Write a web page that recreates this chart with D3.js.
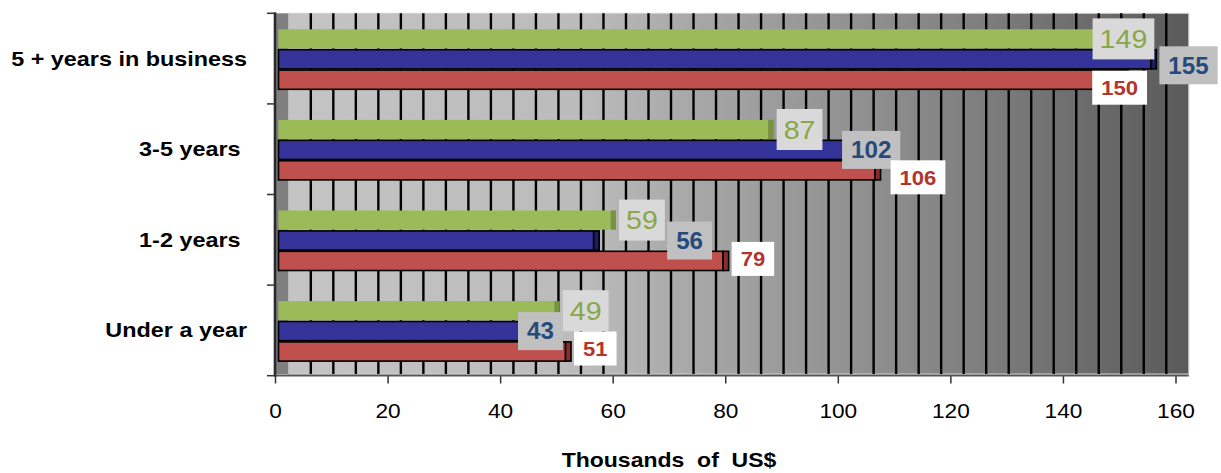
<!DOCTYPE html>
<html>
<head>
<meta charset="utf-8">
<script src="https://cdn.jsdelivr.net/npm/d3@7"></script>
<style>
  html, body { margin: 0; padding: 0; background: #fff; }
  svg { display: block; font-family: "Liberation Sans", Arial, sans-serif; }
  text { white-space: pre; }
</style>
</head>
<body>
<svg id="chart" width="1221" height="473"></svg>
<script>
// ---- data ----
const categories = ["5 + years in business", "3-5 years ", "1-2 years ", "Under a year"];
const greenValues = [149, 87, 59, 49];
const blueValues  = [155, 102, 56, 43];
const redValues   = [150, 106, 79, 51];
const xTicks = [0, 20, 40, 60, 80, 100, 120, 140, 160];
const axisTitle = "Thousands  of  US$";

// hand-placed nudges for value labels that would otherwise collide
const labelShiftX = [[-33, 0, 0, 0], [0, -19, 65, -11], [-39, 7, 0, 0]];
const labelShiftY = [[0, 0, 0, 0], [6, 0, 0, 0], [8, 7, -2, -3]];

// ---- layout ----
const svg = d3.select("#chart");
const SX = 1.2;            // horizontal stretch of axis text
const depth = 13.3;        // back wall offset of the pseudo-3D plot
const wallTop = 13.3, wallBottom = 374, axisY = 375.5;

const x = d3.scaleLinear().domain([0, 160]).range([275, 1175.5]);
const y = d3.scaleBand().domain(categories).range([13.3, 375.7]);
const inner = d3.scaleBand().domain(d3.range(3)).range([16, 76]).paddingInner(0.06);

const series = [
  { values: greenValues, fill: "#9bbb59", cap: "#77933c", stroke: "none",
    bg: "#d9d9d9", color: "#89a746", size: 26, weight: "normal", padX: 7, h: 41, sx: 1.1 },
  { values: blueValues, fill: "#333399", cap: "#1c1c60", stroke: "#000",
    bg: "#c0c0c0", color: "#274a7c", size: 23, weight: "bold", padX: 9, h: 38, sx: 1.05 },
  { values: redValues, fill: "#c0504d", cap: "#8b2d2a", stroke: "#000",
    bg: "#ffffff", color: "#b0362f", size: 21, weight: "bold", padX: 9, h: 34, sx: 1.05 }
];

// ---- back wall with gradient ----
const defs = svg.append("defs");
const grad = defs.append("linearGradient").attr("id", "wallGrad")
  .attr("x1", 0).attr("x2", 1).attr("y1", 0).attr("y2", 0);
[[0, "#c4c4c4"], [0.33, "#bbbbbb"], [0.46, "#a6a6a6"], [0.71, "#878787"], [1, "#5a5a5a"]]
  .forEach(([o, c]) => grad.append("stop").attr("offset", o).attr("stop-color", c));

svg.append("rect")
  .attr("x", x(0) + depth).attr("y", wallTop)
  .attr("width", x(160) - x(0)).attr("height", wallBottom - wallTop)
  .attr("fill", "url(#wallGrad)")
  .attr("stroke", "#d0d0d0").attr("stroke-width", 1);

// side wall
svg.append("rect")
  .attr("x", x(0)).attr("y", wallTop)
  .attr("width", depth).attr("height", wallBottom - wallTop)
  .attr("fill", "#7f7f7f");

// vertical gridlines on the back wall
svg.append("g").selectAll("line")
  .data(d3.range(4, 160, 4))
  .join("line")
  .attr("x1", d => x(d) + depth).attr("x2", d => x(d) + depth)
  .attr("y1", wallTop).attr("y2", wallBottom)
  .attr("stroke", "#000").attr("stroke-width", 2.4);

// ---- axes ----
const xAxis = svg.append("g")
  .attr("transform", `translate(0,${axisY})`)
  .call(d3.axisBottom(x).tickValues(xTicks).tickSize(8).tickSizeOuter(0).tickFormat(d3.format("d")))
  .attr("font-family", null).attr("font-size", null);
xAxis.select(".domain").remove();
xAxis.selectAll(".tick line").attr("stroke", "#333").attr("stroke-width", 1.5);
xAxis.selectAll(".tick text")
  .attr("y", 43).attr("dy", 0)
  .attr("font-size", 21).attr("fill", "#000")
  .attr("transform", `scale(1.08,1)`);

svg.append("line")
  .attr("x1", x(0)).attr("x2", x(160) + depth)
  .attr("y1", axisY).attr("y2", axisY)
  .attr("stroke", "#555").attr("stroke-width", 2);

svg.append("line")
  .attr("x1", x(0)).attr("x2", x(0))
  .attr("y1", wallTop - 1).attr("y2", axisY + 1)
  .attr("stroke", "#2a2a2a").attr("stroke-width", 2.6);

const bounds = categories.map(c => y(c)).concat([y.range()[1]]);
svg.append("g").selectAll("line")
  .data(bounds)
  .join("line")
  .attr("x1", x(0) - 8).attr("x2", x(0))
  .attr("y1", d => d).attr("y2", d => d)
  .attr("stroke", "#333").attr("stroke-width", 1.5);

svg.append("g").selectAll("text")
  .data(categories)
  .join("text")
  .attr("transform", c => `translate(247,${y(c) + y.bandwidth() / 2}) scale(${SX},1)`)
  .attr("text-anchor", "end").attr("dy", "0.36em")
  .attr("font-size", 19.5).attr("font-weight", "bold").attr("fill", "#000")
  .text(c => c);

svg.append("text")
  .attr("transform", `translate(669,467) scale(1.15,1)`)
  .attr("text-anchor", "middle")
  .attr("font-size", 20).attr("font-weight", "bold").attr("fill", "#000")
  .text(axisTitle);

// ---- bars ----
const CAP0 = 3.5, CAP1 = 9;   // front-face offset and end-cap extent
series.forEach((s, si) => {
  const g = svg.append("g");
  const rows = categories.map((c, i) => ({ c, v: s.values[i], i }));
  g.selectAll("rect.front").data(rows).join("rect").attr("class", "front")
    .attr("x", x(0) + CAP0).attr("y", d => y(d.c) + inner(si))
    .attr("width", d => x(d.v) - x(0)).attr("height", inner.bandwidth())
    .attr("fill", s.fill).attr("stroke", s.stroke).attr("stroke-width", 1.6);
  g.selectAll("rect.cap").data(rows).join("rect").attr("class", "cap")
    .attr("x", d => x(d.v) + CAP0).attr("y", d => y(d.c) + inner(si))
    .attr("width", CAP1 - CAP0).attr("height", inner.bandwidth())
    .attr("fill", s.cap).attr("stroke", s.stroke).attr("stroke-width", 1.6);
});

// ---- value labels ----
series.forEach((s, si) => {
  categories.forEach((c, i) => {
    const v = s.values[i];
    const cy = y(c) + inner(si) + inner.bandwidth() / 2 + labelShiftY[si][i];
    const g = svg.append("g");
    const box = g.append("rect").attr("fill", s.bg);
    const t = g.append("text")
      .attr("text-anchor", "middle").attr("dy", "0.36em")
      .attr("font-size", s.size).attr("font-weight", s.weight)
      .attr("fill", s.color)
      .text(v);
    const w = t.node().getComputedTextLength() * s.sx + 2 * s.padX;
    const left = x(v) + 12 + labelShiftX[si][i];
    box.attr("x", left).attr("y", cy - s.h / 2).attr("width", w).attr("height", s.h);
    t.attr("transform", `translate(${left + w / 2},${cy}) scale(${s.sx},1)`);
  });
});
</script>
</body>
</html>
